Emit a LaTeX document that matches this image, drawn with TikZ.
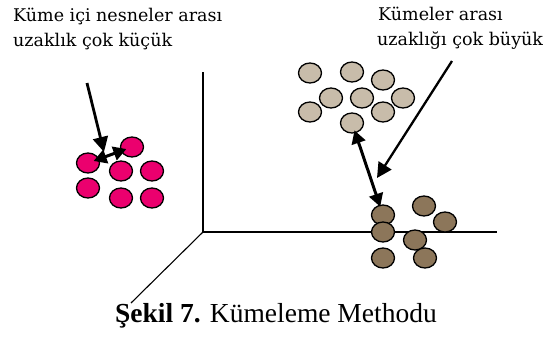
\documentclass[tikz,border=0pt]{standalone}
\usepackage{fontspec}
\setmainfont{Liberation Serif}
\newfontfamily\lblfont{DejaVu Serif}
\usetikzlibrary{arrows.meta,shapes.geometric}
\definecolor{pinkc}{RGB}{235,0,110}
\definecolor{lightc}{RGB}{200,188,170}
\definecolor{darkc}{RGB}{140,118,90}
\begin{document}
\begin{tikzpicture}[x=1pt,y=-1pt,
  dot/.style={ellipse, draw=black, line width=1.3pt, minimum width=23pt, minimum height=20pt, inner sep=0pt},
  pinkdot/.style={dot, fill=pinkc},
  lightdot/.style={dot, fill=lightc},
  darkdot/.style={dot, fill=darkc},
  axis/.style={draw=black, line width=1.1pt},
  lbl/.style={font={\lblfont\fontsize{17.5}{20}\selectfont}, inner sep=0pt},
  captionstyle/.style={font={\fontsize{27.5}{32}\selectfont}, inner sep=0pt},
  pointer/.style={draw=black, line width=2.8pt, -{Triangle[length=15pt,width=15pt]}},
  dblarrow/.style={draw=black, line width=3pt, {Triangle[length=13pt,width=14pt]}-{Triangle[length=13pt,width=14pt]}}
]
\useasboundingbox[fill=white] (0,0) rectangle (550,343);

% axes
\coordinate (O) at (203,232);
\coordinate (ytop) at (203,72);
\coordinate (xend) at (497,232);
\coordinate (zend) at (131,303);
\draw[axis] (ytop) -- (O) -- (xend);
\draw[axis] (O) -- (zend);

% pink cluster
\node[pinkdot] (p1) at (132,147) {};
\node[pinkdot] (p2) at (88,163) {};
\node[pinkdot] (p3) at (121,171) {};
\node[pinkdot] (p4) at (152,171) {};
\node[pinkdot] (p5) at (88,188) {};
\node[pinkdot] (p6) at (121,198) {};
\node[pinkdot] (p7) at (152,198) {};

% light cluster
\node[lightdot] (l1) at (310,73) {};
\node[lightdot] (l2) at (352,72) {};
\node[lightdot] (l3) at (383,80) {};
\node[lightdot] (l4) at (331,98) {};
\node[lightdot] (l5) at (362,98) {};
\node[lightdot] (l6) at (403,98) {};
\node[lightdot] (l7) at (310,112) {};
\node[lightdot] (l8) at (383,112) {};
\node[lightdot] (l9) at (352,123) {};

% dark cluster
\node[darkdot] (d1) at (383,215) {};
\node[darkdot] (d2) at (383,232) {};
\node[darkdot] (d3) at (383,258) {};
\node[darkdot] (d4) at (424,206) {};
\node[darkdot] (d5) at (445,222) {};
\node[darkdot] (d6) at (415,240) {};
\node[darkdot] (d7) at (425,258) {};

% arrows
\draw[dblarrow, shorten <=-6pt, shorten >=-6pt] (p2) -- (p1);
\coordinate (lstart) at (87,83);
\coordinate (ltip) at (104,152);
\draw[pointer] (lstart) -- (ltip);

\draw[dblarrow, shorten <=-3pt, shorten >=-2pt] (l9) -- (d1);
\coordinate (rstart) at (452,61);
\coordinate (rtip) at (377,178);
\draw[pointer, line width=2.3pt] (rstart) -- (rtip);

% labels
\node[lbl, anchor=base west] (t1a) at (13,21.7) {Küme içi nesneler arası};
\node[lbl, anchor=base west] (t1b) at (13,46.7) {uzaklık çok küçük};
\node[lbl, anchor=base west] (t2a) at (378,20) {Kümeler arası};
\node[lbl, anchor=base west] (t2b) at (377,45) {uzaklığı çok büyük};

\node[captionstyle, anchor=base west] (cap) at (115,322.7) {\textbf{Şekil 7.} Kümeleme Methodu};
\end{tikzpicture}
\end{document}
